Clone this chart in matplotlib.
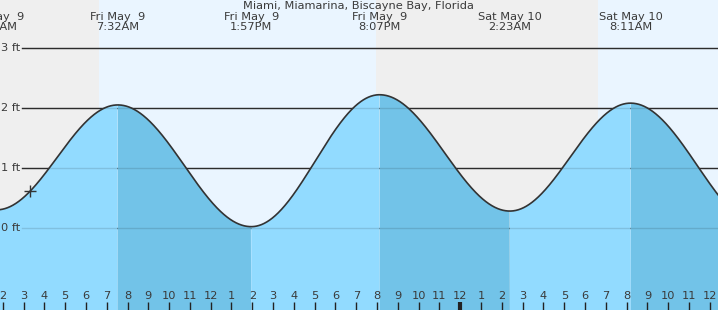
import numpy as np
import matplotlib
matplotlib.use("Agg")
import matplotlib.pyplot as plt
from matplotlib.transforms import blended_transform_factory

# ---- data (hours measured from Fri May 9, 00:00) ----
event_hours = [1.70, 7.533, 13.95, 20.117, 26.383, 32.183, 38.6]
event_heights = [0.30, 2.05, 0.02, 2.22, 0.28, 2.08, 0.00]
label_hours = [1.70, 7.533, 13.95, 20.117, 26.383, 32.183]
label_text = ["Fri May  9\n1:42AM", "Fri May  9\n7:32AM", "Fri May  9\n1:57PM",
              "Fri May  9\n8:07PM", "Sat May 10\n2:23AM", "Sat May 10\n8:11AM"]
night_spans = [(0.0, 6.63), (19.95, 30.62)]
day_spans = [(6.63, 19.95), (30.62, 40.0)]
hour_ticks = list(range(2, 37))
hour_labels = [str((h - 1) % 12 + 1) for h in hour_ticks]
ft_levels = [0, 1, 2, 3]
ft_labels = ["0 ft", "1 ft", "2 ft", "3 ft"]
now_hour = 3.31
title = "Miami, Miamarina, Biscayne Bay, Florida"
title_hour = 19.08

FS = 8.2
TXT = "#3a3a3a"

# ---- figure ----
fig = plt.figure(figsize=(7.18, 3.10), dpi=100)
ax = fig.add_axes([0, 0, 1, 1])
x0, x1 = 1.87, 36.39
ax.set_xlim(x0, x1)
ax.set_ylim(-1.37, 3.80)
ax.axis("off")

for a, b in night_spans:
    ax.axvspan(a, b, color="#efefef", zorder=0, lw=0)
for a, b in day_spans:
    ax.axvspan(a, b, color="#eaf5ff", zorder=0, lw=0)

# tide curve between extremes (cosine shape between successive events)
t = np.linspace(x0 - 0.5, x1 + 0.5, 2000)
h = np.zeros_like(t)
falling = np.zeros_like(t, dtype=bool)
for i in range(len(event_hours) - 1):
    ta, tb = event_hours[i], event_hours[i + 1]
    ha, hb = event_heights[i], event_heights[i + 1]
    m = (t >= ta) & (t <= tb)
    f = (t[m] - ta) / (tb - ta)
    h[m] = hb + (ha - hb) * (1 + np.cos(np.pi * f)) / 2
    falling[m] = ha > hb

# grid lines (dark, under water)
xfrac_start = 22 / 718
for lv, lb in zip(ft_levels, ft_labels):
    ax.axhline(lv, xmin=xfrac_start, xmax=1, color="#333333", lw=1.0, zorder=1)
    ax.text(x0 + 20.5 / 20.8, lv, lb, ha="right", va="center", fontsize=FS,
            color=TXT, zorder=5)

ax.fill_between(t, -2, h, where=~falling, color="#92dbff", lw=0, zorder=2, interpolate=True)
ax.fill_between(t, -2, h, where=falling, color="#72c3e8", lw=0, zorder=2, interpolate=True)
for lv in ft_levels:
    ax.axhline(lv, xmin=xfrac_start, xmax=1, color="#000000", alpha=0.12, lw=1.0, zorder=3)
ax.plot(t, h, color="#333333", lw=1.2, zorder=4)

# current time marker
now_h = np.interp(now_hour, t, h)
ax.plot([now_hour], [now_h], marker="+", color="#333333", ms=8, mew=1.0, zorder=6)

# header labels
tr = blended_transform_factory(ax.transData, ax.transAxes)
ax.text(title_hour, 1.0 - 1 / 310, title, transform=tr, ha="center", va="top",
        fontsize=FS, color=TXT, zorder=7)
for hx, lt in zip(label_hours, label_text):
    ax.text(hx, 1.0 - 12 / 310, lt, transform=tr, ha="center", va="top",
            fontsize=FS, color=TXT, linespacing=0.95, zorder=7)

# bottom hour ticks
for hx, lb in zip(hour_ticks, hour_labels):
    lw = 3 if hx == 24 else 1
    ax.plot([hx, hx], [0, 8 / 310], transform=tr, color="#222222", lw=lw, zorder=7,
            solid_capstyle="butt")
    ax.text(hx, 14 / 310, lb, transform=tr, ha="center", va="center", fontsize=FS,
            color=TXT, zorder=7)

fig.savefig("out.png", dpi=100)
